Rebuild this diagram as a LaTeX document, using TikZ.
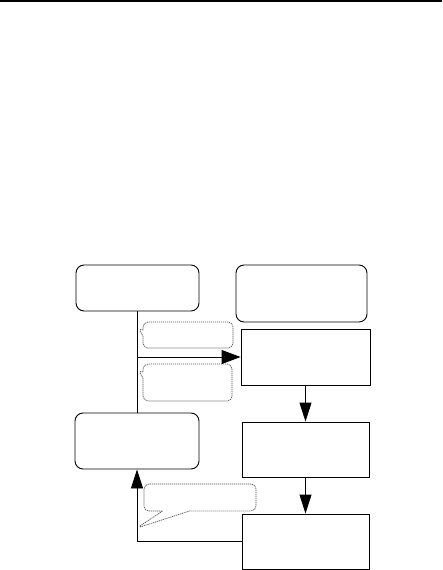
\documentclass[tikz,border=0pt]{standalone}
\usepackage{xcolor}
\usepackage{tikz}
\usetikzlibrary{arrows.meta,shapes.callouts}
\definecolor{noteedge}{HTML}{505050}
\tikzset{
  stepbox/.style={draw,line width=0.9pt,minimum width=#1,minimum height=56pt,inner sep=0pt},
  roundbox/.style={stepbox=#1,rounded corners=8pt},
  notebox/.style={rectangle callout,draw=noteedge,line width=0.7pt,dash pattern=on 1.2pt off 0.8pt,rounded corners=5pt,inner sep=0pt},
  flow/.style={line width=0.9pt,-{Triangle[length=19pt,width=12pt]}}
}

\begin{document}
\begin{tikzpicture}[x=1pt,y=-1pt]
  \useasboundingbox (0,0) rectangle (442,570);
  \draw[line width=1.5pt] (0,0.8) -- (442,0.8);
  \node[roundbox=123pt,minimum height=46pt] (plan) at (137.5,288) {};
  \node[roundbox=131pt,minimum height=57pt] (goal) at (301.5,293.5) {};
  \node[stepbox=129pt] (exec) at (305.5,357) {};
  \node[roundbox=124pt] (adjust) at (137,441) {};
  \node[stepbox=127pt,minimum height=55pt] (check) at (305.5,449.5) {};
  \node[stepbox=127pt,minimum height=55pt] (result) at (305.5,541.5) {};
  \node[notebox,minimum width=90pt,minimum height=26pt,callout pointer width=6pt,
        callout absolute pointer={(138,328)}] (noteA) at (188,335) {};
  \node[notebox,minimum width=89pt,minimum height=37pt,callout pointer width=6pt,
        callout absolute pointer={(138,370)}] (noteB) at (187.5,382.5) {};
  \node[notebox,minimum width=112pt,minimum height=27pt,callout pointer width=27pt,
        callout absolute pointer={(137,528)}] (noteC) at (200,497.5) {};
  \draw[line width=0.9pt] (plan.south) -- (adjust.north -| plan.south);
  \draw[flow,-{Triangle[length=19pt,width=14pt]}] (plan.south |- exec.west) -- (exec.west);
  \draw[flow] (exec.south) -- (check.north);
  \draw[flow] (check.south) -- (result.north);
  \draw[flow] (result.west) -| (adjust.south);
\end{tikzpicture}
\end{document}
